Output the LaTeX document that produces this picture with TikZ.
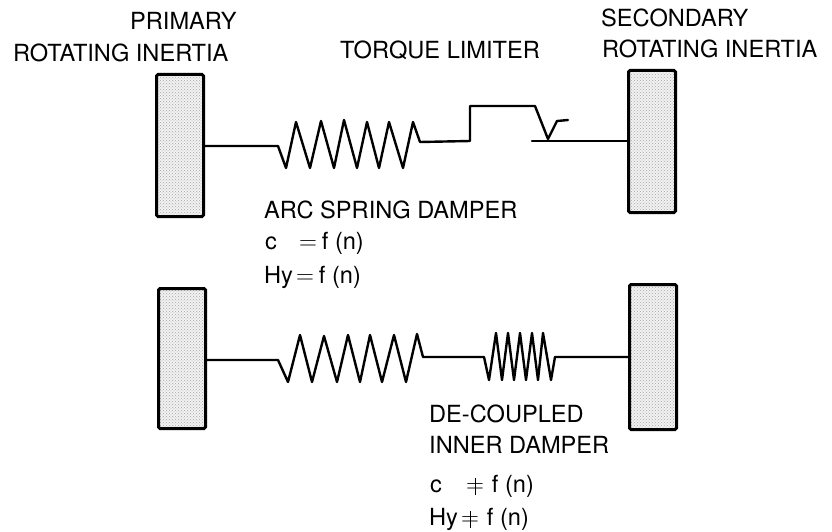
\documentclass[tikz,border=0pt]{standalone}
\usepackage{fontspec}
\setmainfont{TeX Gyre Heros}
\usetikzlibrary{patterns}
\tikzset{
	inertia/.style={rectangle, draw=black, line width=3pt, rounded corners=1.5pt, minimum width=47pt, inner sep=0pt,
		preaction={fill=black!5}, pattern=crosshatch dots, pattern color=black!35},
	shaft/.style={line width=2.4pt, line join=round, line cap=round},
	lbl/.style={inner sep=0pt, anchor=base west, font=\fontsize{23.6}{26}\selectfont}
}
\newcommand{\nequal}{\ooalign{$=$\cr\hidewidth\rule[-2.5pt]{0.8pt}{17pt}\hidewidth\cr}}
\begin{document}
\begin{tikzpicture}[x=1pt,y=-1pt]
	\useasboundingbox (0,0) rectangle (832,532);

	\node(prim-top)[inertia, minimum height=142pt] at (180,145.5) {};
	\node(sec-top)[inertia, minimum height=142pt] at (652,141.5) {};
	\node(prim-bot)[inertia, minimum height=140pt] at (182,358.5) {};
	\node(sec-bot)[inertia, minimum height=145pt] at (653,357) {};

	\coordinate(spring-a) at (278,146);
	\coordinate(spring-b) at (420,142);
	\coordinate(step-a) at (470,141);
	\coordinate(step-b) at (470,106);
	\coordinate(step-c) at (535,106);
	\coordinate(step-d) at (548,139);
	\coordinate(tick-a) at (557,121);
	\coordinate(tick-b) at (568,120);
	\coordinate(plate) at (532,141);
	\coordinate(spring-c) at (278,360);
	\coordinate(spring-d) at (423,357);
	\coordinate(spring-e) at (484,357);
	\coordinate(spring-f) at (555,357);

	\draw[shaft] (prim-top.east |- spring-a) -- (spring-a)
		-- (286,168) -- (296,122) -- (310,168) -- (321,121) -- (334,168) -- (344,120)
		-- (357,168) -- (367,122) -- (379,168) -- (389,122) -- (403,168) -- (413,122)
		-- (spring-b) -- (step-a) -- (step-b) -- (step-c) -- (step-d) -- (tick-a) -- (tick-b);
	\draw[shaft] (plate) -- (sec-top.west |- plate);

	\draw[shaft] (prim-bot.east |- spring-c) -- (spring-c)
		-- (288,382) -- (300,335) -- (312,382) -- (324,336) -- (337,382) -- (348,335)
		-- (360,382) -- (370,335) -- (382,382) -- (394,335) -- (406,382) -- (417,334)
		-- (spring-d) -- (spring-e)
		-- (489,380) -- (496,333) -- (502,380) -- (508,333) -- (514,380) -- (520,333)
		-- (526,380) -- (532,333) -- (538,380) -- (543,333) -- (551,380)
		-- (spring-f) -- (sec-bot.west |- spring-f);

	\node(prim-1)[lbl] at (130,30) {PRIMARY};
	\node(prim-2)[lbl] at (13,62) {ROTATING INERTIA};
	\node(limiter)[lbl] at (340,59) {TORQUE LIMITER};
	\node(sec-1)[lbl] at (601,27) {SECONDARY};
	\node(sec-2)[lbl] at (602,58) {ROTATING INERTIA};
	\node(arc)[lbl] at (264,218) {ARC SPRING DAMPER};
	\node(arc-c)[lbl] at (265,249) {c\hspace{22pt}$=$\hspace{5pt}f (n)};
	\node(arc-h)[lbl] at (264,283) {Hy\hspace{3pt}$=$\hspace{5pt}f (n)};
	\node(dec-1)[lbl] at (429,422) {DE-COUPLED};
	\node(dec-2)[lbl] at (429,453) {INNER DAMPER};
	\node(dec-c)[lbl] at (430,492) {c\hspace{24pt}\nequal\hspace{8pt}f (n)};
	\node(dec-h)[lbl] at (429,525) {Hy\hspace{3pt}\nequal\hspace{8pt}f (n)};
\end{tikzpicture}
\end{document}
